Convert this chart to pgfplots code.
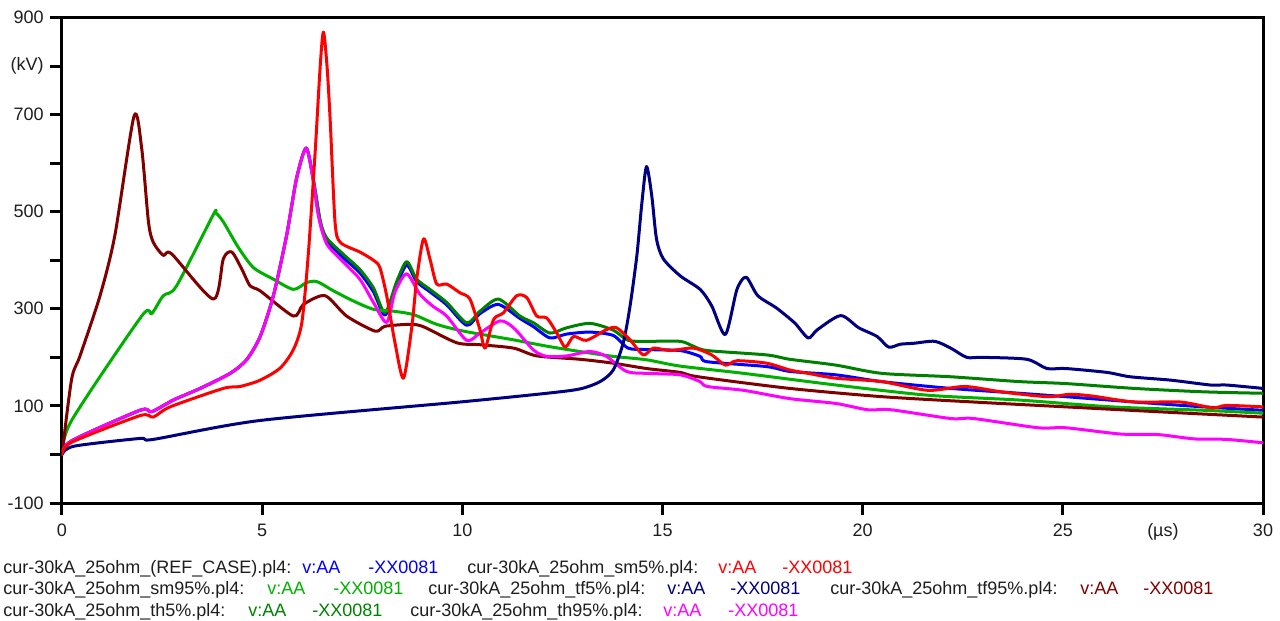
\documentclass[border=0pt]{standalone}
\usepackage{pgfplots}
\pgfplotsset{compat=1.18}
\usepackage{fontspec}
\setmainfont{Liberation Sans}
\definecolor{cblue}{RGB}{0,0,255}
\definecolor{cred}{RGB}{255,0,0}
\definecolor{cgreen}{RGB}{0,176,0}
\definecolor{cnavy}{RGB}{0,0,128}
\definecolor{cdred}{RGB}{128,0,0}
\definecolor{cdgreen}{RGB}{0,128,0}
\definecolor{cmag}{RGB}{255,0,255}
\definecolor{ctxt}{RGB}{30,30,30}
\begin{document}
\fontsize{9}{11}\selectfont
\begin{tikzpicture}
\begin{axis}[
  at={(0pt,0pt)}, anchor=south west,
  scale only axis, width=600.5pt, height=242.75pt,
  xmin=0, xmax=30, ymin=-100, ymax=900,
  axis line style={line width=1.5pt, black},
  xtick align=outside, ytick align=outside,
  xtick pos=bottom, ytick pos=left,
  major tick length=6pt,
  xtick style={draw=black, line width=1.5pt},
  ytick style={draw=black, line width=1.5pt},
  minor tick num=0,
  xtick={0,5,10,15,20,25,30},
  xticklabels={0,5,10,15,20,25,30},
  ytick={-100,0,100,200,300,400,500,600,700,800,900},
  yticklabels={{-100},{},{100},{},{300},{},{500},{},{700},{(kV)},{900}},
  xticklabel style={anchor=base, inner sep=0pt, text=ctxt, yshift=-10.5pt},
  yticklabel style={anchor=east, inner sep=0pt, text=ctxt, xshift=-3pt},
  clip=true,
  every axis plot/.append style={line width=1.5pt, line join=round, line cap=round, smooth, tension=0.45},
]
% REF (blue)
\addplot[cblue] coordinates {
(0,0) (0.24,28) (1.95,91) (2.24,88) (2.78,112) (3.45,136) (4.2,167) (4.61,195) (4.95,243) (5.28,327) (5.61,451) (5.86,569) (6.1,631) (6.28,565) (6.45,478) (6.61,440) (7.03,405) (7.44,374) (7.78,335) (8.07,287) (8.36,348) (8.61,390) (8.86,356) (9.19,335) (9.61,308) (10.11,266) (10.44,290) (10.9,309) (11.44,280) (11.78,263) (12.19,240) (12.61,248) (13.19,252) (13.77,245) (14.14,219) (14.6,216) (15.44,214) (15.94,202) (16.12,191) (17.6,181) (18.18,171) (19.33,164) (20.48,150) (22.2,136) (23.92,126) (25.07,119) (26.79,108) (28.51,98) (30,91)};
% th5 (dark green)
\addplot[cdgreen] coordinates {
(0,0) (0.24,28) (1.95,91) (2.24,88) (2.78,112) (3.45,136) (4.2,167) (4.61,195) (4.95,243) (5.28,327) (5.61,451) (5.86,569) (6.1,631) (6.28,565) (6.45,482) (6.61,446) (7.03,412) (7.44,381) (7.78,343) (8.07,292) (8.36,356) (8.61,397) (8.86,361) (9.19,340) (9.61,313) (10.11,271) (10.44,295) (10.9,320) (11.44,285) (11.78,271) (12.19,250) (12.61,261) (13.19,270) (13.77,256) (14.14,235) (14.6,233) (15.44,233) (15.77,223) (16.12,214) (17.6,205) (18.18,196) (19.33,184) (20.48,167) (22.2,160) (23.92,150) (25.07,146) (26.79,136) (28.51,129) (30,126)};
% sm95 (green)
\addplot[cgreen] coordinates {
(0,0) (0.24,70) (1.99,285) (2.24,290) (2.53,327) (2.86,347) (3.78,494) (3.85,497) (4.03,479) (4.4,427) (4.78,385) (5.28,361) (5.78,340) (6.11,354) (6.37,356) (6.78,337) (7.28,316) (7.78,299) (8.28,295) (8.78,288) (9.36,268) (10.03,254) (11.28,236) (12.11,223) (12.94,212) (13.77,202) (14.6,195) (15.44,182) (17.03,167) (19.33,143) (21.63,122) (23.92,112) (26.22,98) (28.51,91) (30,85)};
% tf95 (dark red)
\addplot[cdred] coordinates {
(0,0) (0.24,155) (0.45,203) (0.95,327) (1.32,451) (1.8,697) (1.99,631) (2.16,479) (2.28,437) (2.53,410) (2.74,413) (3.78,320) (4.03,403) (4.24,417) (4.49,382) (4.7,347) (4.95,337) (5.78,285) (6.03,309) (6.57,327) (7.11,285) (7.82,254) (8.07,264) (8.69,268) (9.03,263) (9.86,230) (10.44,226) (11.28,219) (11.86,203) (12.94,196) (13.77,188) (14.6,177) (15.44,169) (15.89,160) (18.18,136) (20.48,119) (22.77,108) (25.07,98) (27.37,88) (30,77)};
% th95 (magenta)
\addplot[cmag] coordinates {
(0,0) (0.24,28) (1.95,91) (2.24,88) (2.78,112) (3.45,136) (4.2,167) (4.61,195) (4.95,243) (5.28,327) (5.61,451) (5.86,569) (6.1,631) (6.28,562) (6.4,493) (6.61,434) (7.03,396) (7.44,361) (7.78,313) (8.11,272) (8.32,335) (8.61,372) (8.94,330) (9.27,305) (9.61,285) (10.11,235) (10.44,250) (10.94,275) (11.28,261) (11.78,215) (12.11,202) (12.61,203) (13.19,212) (13.6,202) (14.1,171) (14.6,167) (15.44,164) (15.94,150) (16.12,140) (17.03,132) (18.18,115) (19.33,105) (20.13,92) (20.71,92) (22.2,74) (22.77,74) (24.38,55) (25.07,55) (26.45,42) (27.37,41) (28.29,32) (29.09,31) (30,24)};
% tf5 (navy)
\addplot[cnavy] coordinates {
(0,0) (0.3,17) (1.95,33) (2.28,31) (4.95,70) (9.94,108) (12.11,126) (12.94,135) (13.44,150) (13.77,174) (14.02,230) (14.19,306) (14.36,410) (14.48,514) (14.6,593) (14.73,534) (14.85,444) (15.02,403) (15.44,368) (15.94,340) (16.23,306) (16.57,247) (16.86,340) (17.09,365) (17.38,327) (17.84,302) (18.3,271) (18.64,240) (18.87,257) (19.45,286) (19.9,261) (20.36,243) (20.65,221) (20.94,227) (21.28,229) (21.8,233) (22.2,219) (22.6,200) (23.0,200) (24.1,196) (24.6,177) (25.07,177) (26.1,169) (26.68,160) (27.7,153) (28.69,143) (29.09,143) (30,136)};
% sm5 (red)
\addplot[cred] coordinates {
(0,0) (0.24,25) (1.95,80) (2.28,77) (2.7,98) (4.03,136) (4.45,140) (4.95,153) (5.45,178) (5.78,216) (5.99,271) (6.15,410) (6.32,618) (6.45,800) (6.53,870) (6.62,800) (6.7,687) (6.82,479) (6.95,437) (7.44,417) (7.78,400) (7.94,385) (8.11,327) (8.32,229) (8.53,157) (8.74,264) (8.86,361) (9.03,444) (9.19,403) (9.36,351) (9.61,351) (9.94,333) (10.19,320) (10.44,257) (10.57,219) (10.78,278) (11.03,292) (11.36,327) (11.61,323) (11.86,285) (12.11,281) (12.36,250) (12.57,221) (12.78,243) (13.1,235) (13.6,257) (13.85,261) (14.19,236) (14.52,205) (14.77,219) (15.19,214) (15.77,219) (16.23,205) (16.57,184) (16.86,193) (17.6,188) (18.18,174) (18.64,167) (19.33,157) (20.48,150) (21.63,132) (22.55,140) (23.46,129) (24.61,119) (25.19,124) (25.76,120) (26.79,108) (27.94,108) (28.74,96) (29.09,101) (30,98)};
\end{axis}
\node[anchor=base, inner sep=0pt, text=ctxt] at (550.46pt,-17pt) {(µs)};
% legend
\begin{scope}[every node/.style={anchor=base west, inner sep=0pt}]
\node[text=ctxt] at (-29.5pt,-35.15pt) {cur-30kA\_25ohm\_(REF\_CASE).pl4:};
\node[text=cblue] at (120pt,-35.15pt) {v:AA};
\node[text=cblue] at (153pt,-35.15pt) {-XX0081};
\node[text=ctxt] at (202.5pt,-35.15pt) {cur-30kA\_25ohm\_sm5\%.pl4:};
\node[text=cred] at (328pt,-35.15pt) {v:AA};
\node[text=cred] at (360pt,-35.15pt) {-XX0081};
\node[text=ctxt] at (-29.5pt,-46pt) {cur-30kA\_25ohm\_sm95\%.pl4:};
\node[text=cgreen] at (102.5pt,-46pt) {v:AA};
\node[text=cgreen] at (135.5pt,-46pt) {-XX0081};
\node[text=ctxt] at (183pt,-46pt) {cur-30kA\_25ohm\_tf5\%.pl4:};
\node[text=cnavy] at (302.5pt,-46pt) {v:AA};
\node[text=cnavy] at (334pt,-46pt) {-XX0081};
\node[text=ctxt] at (384pt,-46pt) {cur-30kA\_25ohm\_tf95\%.pl4:};
\node[text=cdred] at (509pt,-46pt) {v:AA};
\node[text=cdred] at (540.5pt,-46pt) {-XX0081};
\node[text=ctxt] at (-29.5pt,-56.85pt) {cur-30kA\_25ohm\_th5\%.pl4:};
\node[text=cdgreen] at (93pt,-56.85pt) {v:AA};
\node[text=cdgreen] at (125pt,-56.85pt) {-XX0081};
\node[text=ctxt] at (174pt,-56.85pt) {cur-30kA\_25ohm\_th95\%.pl4:};
\node[text=cmag] at (300.5pt,-56.85pt) {v:AA};
\node[text=cmag] at (333pt,-56.85pt) {-XX0081};
\end{scope}
\pgfresetboundingbox
\path (-31pt,-59pt) rectangle (609pt,251.5pt);
\end{tikzpicture}
\end{document}
